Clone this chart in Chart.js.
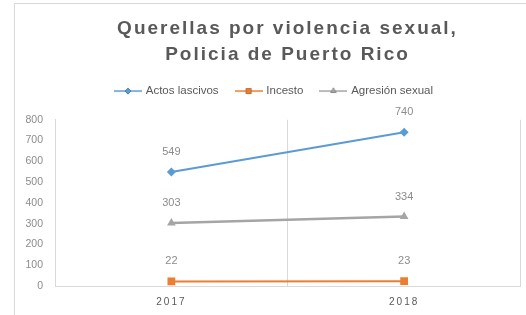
<!DOCTYPE html>
<html>
<head>
<meta charset="utf-8">
<script src="https://cdn.jsdelivr.net/npm/chart.js@4/dist/chart.umd.min.js"></script>
<style>
html, body { margin: 0; padding: 0; background: #fff; overflow: hidden; }
#frame { position: absolute; left: 14px; top: 3px; width: 600px; height: 400px;
         border-left: 1px solid #d9d9d9; border-top: 1px solid #d9d9d9; }
#wrap { position: absolute; left: 0; top: 0; width: 526px; height: 315px; }
</style>
</head>
<body>
<div id="frame"></div>
<div id="wrap"><canvas id="chart"></canvas></div>
<script>
const years = ['2017', '2018'];
const actosLascivos = [549, 740];
const incesto = [22, 23];
const agresionSexual = [303, 334];
const yMin = 0, yMax = 800, yStep = 100;
const titleLines = ['Querellas por violencia sexual,', 'Policia de Puerto Rico'];

const SERIES = [
    { label: 'Actos lascivos',  data: actosLascivos,  color: '#5B9BD5', marker: 'rectRot',  radius: 4.5, width: 2 },
    { label: 'Incesto',         data: incesto,        color: '#ED7D31', marker: 'rect',     radius: 5.5, width: 2 },
    { label: 'Agresión sexual', data: agresionSexual, color: '#A5A5A5', marker: 'triangle', radius: 5,   width: 2.5 }
];

// small line+marker glyph for the legend
function legendGlyph(s) {
    const c = document.createElement('canvas');
    c.width = 28; c.height = 12;
    const g = c.getContext('2d');
    g.strokeStyle = s.color; g.lineWidth = 1.5;
    g.beginPath(); g.moveTo(0, 6); g.lineTo(28, 6); g.stroke();
    Chart.helpers.drawPoint(g, { pointStyle: s.marker, radius: s.radius * 0.7, borderWidth: 0 }, 14, 6);
    g.fillStyle = s.color; g.fill();
    return c;
}

const tweaks = {
    id: 'tweaks',
    afterInit(chart) {
        const ctx = chart.ctx;
        const tb = chart.titleBlock;
        const tDraw = tb.draw;
        tb.draw = function (area) {
            ctx.save(); ctx.translate(27, 0); ctx.letterSpacing = '2px';
            tDraw.call(this, area); ctx.restore();
        };
        const lg = chart.legend;
        const lFit = lg.fit;
        lg.fit = function () { lFit.call(this); this.height += 13; };
        const lDraw = lg.draw;
        lg.draw = function () {
            ctx.save(); ctx.translate(14, 0);
            lDraw.call(this); ctx.restore();
        };
    },
    beforeDraw(chart) {
        const xs = chart.scales.x;
        if (!xs._spaced) {
            const ctx = chart.ctx;
            const lDraw = xs.drawLabels;
            xs.drawLabels = function (area) { ctx.save(); ctx.letterSpacing = '2px'; lDraw.call(this, area); ctx.restore(); };
            xs._spaced = true;
        }
    },
    afterDatasetsDraw(chart) {
        const ctx = chart.ctx;
        ctx.save();
        ctx.font = '11px "Liberation Sans", Arial, sans-serif';
        ctx.fillStyle = '#8c8c8c';
        ctx.textAlign = 'center';
        ctx.textBaseline = 'middle';
        chart.data.datasets.forEach((ds, i) => {
            chart.getDatasetMeta(i).data.forEach((pt, j) => {
                ctx.fillText(String(ds.data[j]), pt.x, pt.y - 20);
            });
        });
        ctx.restore();
    }
};

const datasets = SERIES.map(s => ({
    label: s.label,
    data: s.data,
    borderColor: s.color,
    backgroundColor: s.color,
    borderWidth: s.width,
    pointStyle: s.marker,
    pointRadius: s.radius,
    pointHoverRadius: s.radius,
    pointBorderWidth: 0,
    pointBackgroundColor: s.color,
    tension: 0,
    fill: false
}));

new Chart(document.getElementById('chart'), {
    type: 'line',
    data: { labels: years, datasets },
    options: {
        responsive: true,
        maintainAspectRatio: false,
        animation: false,
        layout: { padding: { left: 0, right: 5, top: 0, bottom: 0 } },
        plugins: {
            title: {
                display: true,
                text: titleLines,
                color: '#595959',
                font: { family: '"Liberation Sans", Arial, sans-serif', size: 19, weight: 'bold', lineHeight: 1.35 },
                padding: { top: 16, bottom: 0 }
            },
            legend: {
                display: true,
                labels: {
                    usePointStyle: true,
                    pointStyleWidth: 24,
                    padding: 18,
                    color: '#595959',
                    font: { family: '"Liberation Sans", Arial, sans-serif', size: 11.5 },
                    generateLabels(chart) {
                        return Chart.defaults.plugins.legend.labels.generateLabels(chart).map((it, i) => {
                            it.pointStyle = legendGlyph(SERIES[i]);
                            return it;
                        });
                    }
                }
            },
            tooltip: { enabled: false }
        },
        scales: {
            x: {
                offset: true,
                grid: { display: true, offset: true, color: '#d9d9d9', drawTicks: false },
                border: { display: true, color: '#d9d9d9' },
                ticks: { color: '#595959', padding: 10, font: { family: '"Liberation Sans", Arial, sans-serif', size: 10 } },
                afterFit(scale) { scale.height = 29; }
            },
            y: {
                min: yMin,
                max: yMax,
                ticks: { stepSize: yStep, color: '#8c8c8c', padding: 12, font: { family: '"Liberation Sans", Arial, sans-serif', size: 10.5 } },
                grid: { display: true, drawOnChartArea: false, drawTicks: false },
                border: { display: true, color: '#d9d9d9' },
                afterFit(scale) { scale.width = 55; }
            }
        }
    },
    plugins: [tweaks]
});
</script>
</body>
</html>
